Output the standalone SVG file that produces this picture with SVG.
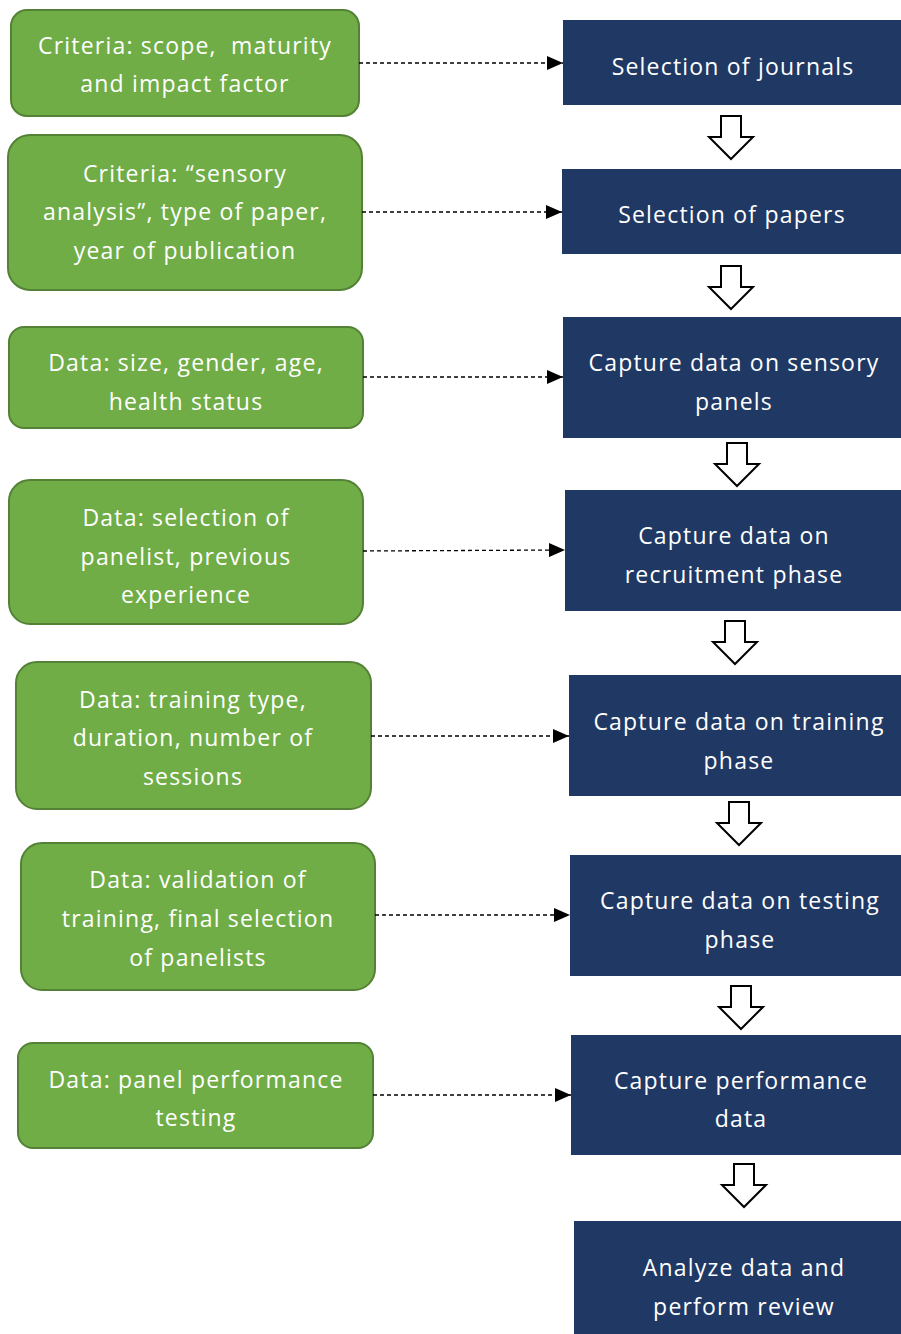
<svg xmlns="http://www.w3.org/2000/svg" width="901" height="1334" viewBox="0 0 901 1334">
<style>
.g{fill:#70AD47;stroke:#538135;stroke-width:2}
.b{fill:#203864}
.t{font-family:"Open Sans",Lato,sans-serif;font-size:23px;letter-spacing:1.2px;fill:#fff;text-anchor:middle;dominant-baseline:central}
.d{stroke:#000;stroke-width:1.3;stroke-dasharray:4,3;fill:none}
.h{fill:#fff;stroke:#000;stroke-width:2;stroke-linejoin:miter}
</style>
<defs>
<marker id="ah" markerWidth="16" markerHeight="14" refX="16" refY="7" orient="auto" markerUnits="userSpaceOnUse">
<path d="M0,0 L16,7 L0,14 Z" fill="#000"/>
</marker>
<path id="ha" d="M-10,0 H10 V21 H22 L0,43 L-22,21 H-10 Z"/>
</defs>
<rect width="901" height="1334" fill="#fff"/>
<g id="c1"><rect class="g" x="11" y="10" width="348" height="106" rx="16"/><text class="t" xml:space="preserve"><tspan x="185" y="45">Criteria: scope,  maturity</tspan><tspan x="185" y="83">and impact factor</tspan></text></g>
<g id="c2"><rect class="g" x="8" y="135" width="354" height="155" rx="22"/><text class="t"><tspan x="185" y="173">Criteria: “sensory</tspan><tspan x="185" y="211">analysis”, type of paper,</tspan><tspan x="185" y="250">year of publication</tspan></text></g>
<g id="c3"><rect class="g" x="9" y="327" width="354" height="101" rx="15"/><text class="t"><tspan x="186" y="362">Data: size, gender, age,</tspan><tspan x="186" y="401">health status</tspan></text></g>
<g id="c4"><rect class="g" x="9" y="480" width="354" height="144" rx="21"/><text class="t"><tspan x="186" y="517">Data: selection of</tspan><tspan x="186" y="556">panelist, previous</tspan><tspan x="186" y="594">experience</tspan></text></g>
<g id="c5"><rect class="g" x="16" y="662" width="355" height="147" rx="21"/><text class="t"><tspan x="193" y="699">Data: training type,</tspan><tspan x="193" y="737">duration, number of</tspan><tspan x="193" y="776">sessions</tspan></text></g>
<g id="c6"><rect class="g" x="21" y="843" width="354" height="147" rx="21"/><text class="t"><tspan x="198" y="879">Data: validation of</tspan><tspan x="198" y="918">training, final selection</tspan><tspan x="198" y="957">of panelists</tspan></text></g>
<g id="c7"><rect class="g" x="18" y="1043" width="355" height="105" rx="15"/><text class="t"><tspan x="196" y="1079">Data: panel performance</tspan><tspan x="196" y="1117">testing</tspan></text></g>
<g id="s1"><rect class="b" x="563" y="20" width="338" height="85"/><text class="t" x="733" y="66">Selection of journals</text></g>
<g id="s2"><rect class="b" x="562" y="169" width="339" height="85"/><text class="t" x="732" y="214">Selection of papers</text></g>
<g id="s3"><rect class="b" x="563" y="317" width="338" height="121"/><text class="t"><tspan x="734" y="362">Capture data on sensory</tspan><tspan x="734" y="401">panels</tspan></text></g>
<g id="s4"><rect class="b" x="565" y="490" width="336" height="121"/><text class="t"><tspan x="734" y="535">Capture data on</tspan><tspan x="734" y="574">recruitment phase</tspan></text></g>
<g id="s5"><rect class="b" x="569" y="675" width="332" height="121"/><text class="t"><tspan x="739" y="721">Capture data on training</tspan><tspan x="739" y="760">phase</tspan></text></g>
<g id="s6"><rect class="b" x="570" y="855" width="331" height="121"/><text class="t"><tspan x="740" y="900">Capture data on testing</tspan><tspan x="740" y="939">phase</tspan></text></g>
<g id="s7"><rect class="b" x="571" y="1035" width="330" height="120"/><text class="t"><tspan x="741" y="1080">Capture performance</tspan><tspan x="741" y="1118">data</tspan></text></g>
<g id="s8"><rect class="b" x="574" y="1221" width="327" height="113"/><text class="t"><tspan x="744" y="1267">Analyze data and</tspan><tspan x="744" y="1306">perform review</tspan></text></g>
<g id="connectors">
<line class="d" x1="359" y1="63" x2="563" y2="63" marker-end="url(#ah)"/>
<line class="d" x1="362" y1="212" x2="562" y2="212" marker-end="url(#ah)"/>
<line class="d" x1="363" y1="377" x2="563" y2="377" marker-end="url(#ah)"/>
<line class="d" x1="363" y1="551" x2="565" y2="550" marker-end="url(#ah)"/>
<line class="d" x1="371" y1="736" x2="569" y2="736" marker-end="url(#ah)"/>
<line class="d" x1="375" y1="915" x2="570" y2="915" marker-end="url(#ah)"/>
<line class="d" x1="373" y1="1095" x2="571" y2="1095" marker-end="url(#ah)"/>
<use href="#ha" class="h" transform="translate(731,116)"/>
<use href="#ha" class="h" transform="translate(731,266)"/>
<use href="#ha" class="h" transform="translate(737,443)"/>
<use href="#ha" class="h" transform="translate(735,621)"/>
<use href="#ha" class="h" transform="translate(739,802)"/>
<use href="#ha" class="h" transform="translate(741,986)"/>
<use href="#ha" class="h" transform="translate(744,1164)"/>
</g>
</svg>
